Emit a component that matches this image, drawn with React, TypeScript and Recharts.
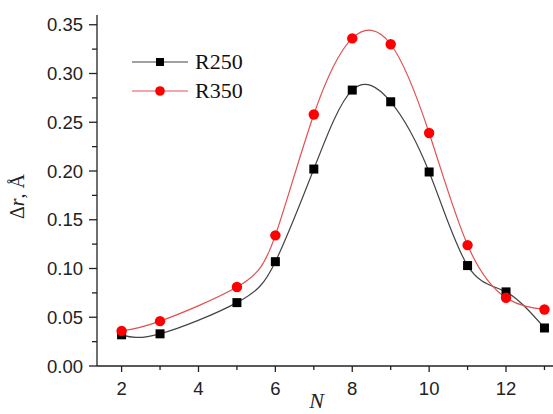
import {
  ComposedChart,
  Line,
  XAxis,
  YAxis,
  Legend,
  Label,
} from "recharts"

const nValues = [2, 3, 5, 6, 7, 8, 9, 10, 11, 12, 13]
const r250 = [0.032, 0.033, 0.065, 0.107, 0.202, 0.283, 0.271, 0.199, 0.103, 0.076, 0.039]
const r350 = [0.036, 0.046, 0.081, 0.134, 0.258, 0.336, 0.330, 0.239, 0.124, 0.070, 0.058]

const xTicks = [2, 3, 4, 5, 6, 7, 8, 9, 10, 11, 12, 13]
const yTicks = [0, 0.025, 0.05, 0.075, 0.1, 0.125, 0.15, 0.175, 0.2, 0.225, 0.25, 0.275, 0.3, 0.325, 0.35]

const data = nValues.map((n, i) => ({
  n,
  r250: r250[i],
  r350: r350[i],
}))

const tickFont = "'Liberation Sans', Arial, sans-serif"
const serif = "'Liberation Serif', 'Times New Roman', serif"

function BottomTick({ x, y, payload }: any) {
  const major = payload.value % 2 === 0
  return (
    <g>
      <line x1={x} x2={x} y1={y} y2={y + (major ? 6 : 4)} stroke="#222" strokeWidth={1.3} />
      {major && (
        <text x={x} y={y + 16} dy="0.71em" textAnchor="middle" fontSize={18.5} fontFamily={tickFont} fill="#222">
          {payload.value}
        </text>
      )}
    </g>
  )
}

function TopTick({ x, y, payload }: any) {
  const major = payload.value % 2 === 0
  return (
    <line x1={x} x2={x} y1={y} y2={y + (major ? 8 : 5)} stroke="#222" strokeWidth={1.3} />
  )
}

function LeftTick({ x, y, payload }: any) {
  const major = Math.round(payload.value * 1000) % 50 === 0
  return (
    <g>
      <line x1={x - (major ? 8 : 5)} x2={x} y1={y} y2={y} stroke="#222" strokeWidth={1.3} />
      {major && (
        <text x={x - 14} y={y} dy="0.36em" textAnchor="end" fontSize={18.5} fontFamily={tickFont} fill="#222">
          {payload.value.toFixed(2)}
        </text>
      )}
    </g>
  )
}

function YLabel({ viewBox }: any) {
  const cx = viewBox.x + 17
  const cy = viewBox.y + viewBox.height / 2 + 6
  return (
    <text
      x={cx}
      y={cy}
      transform={`rotate(-90, ${cx}, ${cy})`}
      textAnchor="middle"
      dy="0.35em"
      fontSize={20}
      fontFamily={serif}
      fill="#222"
    >
      Δ<tspan fontStyle="italic">r</tspan>, Å
    </text>
  )
}

function XLabel({ viewBox }: any) {
  return (
    <text
      x={viewBox.x + viewBox.width / 2 - 10}
      y={viewBox.y + 42}
      textAnchor="middle"
      fontSize={22}
      fontStyle="italic"
      fontFamily={serif}
      fill="#222"
    >
      N
    </text>
  )
}

function Square({ cx, cy }: any) {
  if (cx == null || cy == null) return null
  return <rect x={cx - 4.5} y={cy - 4.5} width={9} height={9} fill="#000" />
}

function Circle({ cx, cy }: any) {
  if (cx == null || cy == null) return null
  return <circle cx={cx} cy={cy} r={5.2} fill="#ff0000" />
}

function LegendBox() {
  const rows = [
    { name: "R250", color: "#444", marker: <rect x={27} y={10} width={8} height={8} fill="#000" /> },
    { name: "R350", color: "#e05050", marker: <circle cx={31} cy={14} r={4.8} fill="#ff0000" /> },
  ]
  return (
    <div>
      {rows.map((r) => (
        <div key={r.name} style={{ display: "flex", alignItems: "center", height: 29 }}>
          <svg width={62} height={28}>
            <line x1={3} x2={59} y1={14} y2={14} stroke={r.color} strokeWidth={1.2} />
            {r.marker}
          </svg>
          <span style={{ fontFamily: serif, fontSize: 22, color: "#111", marginLeft: 4, lineHeight: "28px" }}>
            {r.name}
          </span>
        </div>
      ))}
    </div>
  )
}

function App() {
  return (
    <div
      style={{
        position: "absolute",
        left: 0,
        top: 0,
        width: 553,
        height: 414,
        overflow: "hidden",
        background: "#fff",
      }}
    >
      <ComposedChart
        width={575}
        height={414}
        data={data}
        margin={{ top: 15, right: 19, left: 0, bottom: 0 }}
      >
        <XAxis
          xAxisId="bottom"
          dataKey="n"
          type="number"
          domain={[1.36, 13.3]}
          ticks={xTicks}
          tick={<BottomTick />}
          tickLine={false}
          tickSize={0}
          tickMargin={0}
          axisLine={{ stroke: "#222", strokeWidth: 1.3 }}
          height={48}
          allowDataOverflow
        >
          <Label content={<XLabel />} />
        </XAxis>
        <XAxis
          xAxisId="top"
          orientation="top"
          dataKey="n"
          type="number"
          domain={[1.36, 13.3]}
          ticks={xTicks}
          tick={<TopTick />}
          tickLine={false}
          tickSize={0}
          tickMargin={0}
          axisLine={{ stroke: "#222", strokeWidth: 1.3 }}
          height={0}
          allowDataOverflow
        />
        <YAxis
          type="number"
          domain={[0, 0.36]}
          ticks={yTicks}
          tick={<LeftTick />}
          tickLine={false}
          tickSize={0}
          tickMargin={0}
          axisLine={{ stroke: "#222", strokeWidth: 1.3 }}
          width={97}
          allowDataOverflow
        >
          <Label content={<YLabel />} />
        </YAxis>
        <Legend
          content={<LegendBox />}
          layout="vertical"
          align="center"
          verticalAlign="middle"
          wrapperStyle={{ position: "absolute", left: 129, top: 47, width: 140 }}
        />
        <Line
          xAxisId="bottom"
          type="natural"
          dataKey="r250"
          stroke="#444"
          strokeWidth={1.2}
          dot={<Square />}
          isAnimationActive={false}
        />
        <Line
          xAxisId="bottom"
          type="natural"
          dataKey="r350"
          stroke="#e05050"
          strokeWidth={1.2}
          dot={<Circle />}
          isAnimationActive={false}
        />
      </ComposedChart>
    </div>
  )
}

export default App
